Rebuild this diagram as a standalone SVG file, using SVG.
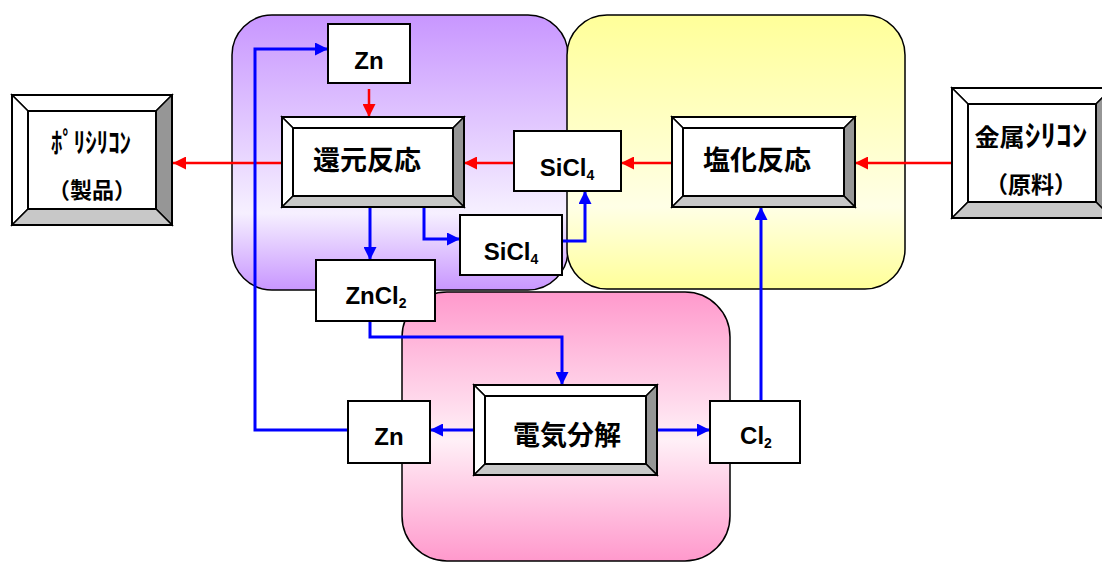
<svg xmlns="http://www.w3.org/2000/svg" width="1102" height="563" viewBox="0 0 1102 563">
<defs>
<linearGradient id="gPurple" x1="0" y1="0" x2="0" y2="1">
<stop offset="0" stop-color="#c896ff"/>
<stop offset="0.72" stop-color="#f6f0ff"/>
<stop offset="1" stop-color="#c896ff"/>
</linearGradient>
<linearGradient id="gYellow" x1="0" y1="0" x2="0" y2="1">
<stop offset="0" stop-color="#ffff99"/>
<stop offset="0.7" stop-color="#ffffe6"/>
<stop offset="1" stop-color="#ffff99"/>
</linearGradient>
<linearGradient id="gPink" x1="0" y1="0" x2="0" y2="1">
<stop offset="0" stop-color="#ff99cc"/>
<stop offset="0.55" stop-color="#fff0f7"/>
<stop offset="1" stop-color="#ff99cc"/>
</linearGradient>
<marker id="aRed" markerUnits="userSpaceOnUse" markerWidth="13" markerHeight="13" refX="13" refY="6.5" orient="auto">
<path d="M0,0 L13,6.5 L0,13 z" fill="#ff0000"/>
</marker>
<marker id="aBlue" markerUnits="userSpaceOnUse" markerWidth="13" markerHeight="13" refX="13" refY="6.5" orient="auto">
<path d="M0,0 L13,6.5 L0,13 z" fill="#0000ff"/>
</marker>
</defs>
<style>
.region{stroke:#000;stroke-width:1.5}
.box{fill:#fff;stroke:#000;stroke-width:2}
.bl{fill:#fff;stroke:#000;stroke-width:1.5;stroke-linejoin:miter}
.br{fill:#969696;stroke:#000;stroke-width:1.5}
.bb{fill:#c8c8c8;stroke:#000;stroke-width:1.5}
.lat{font-family:"Liberation Sans",Arial,sans-serif;font-weight:bold;font-size:24px;fill:#000;text-anchor:middle}
.cjk{font-family:"Noto Sans CJK JP","Noto Sans CJK SC",sans-serif;font-weight:bold;fill:#000;text-anchor:middle}
.red{fill:none;stroke:#ff0000;stroke-width:2.5;marker-end:url(#aRed)}
.blue{fill:none;stroke:#0000ff;stroke-width:3;marker-end:url(#aBlue)}
</style>

<g id="regions">
<rect id="region-reduction" class="region" x="232" y="15" width="336" height="275" rx="40" fill="url(#gPurple)"/>
<rect id="region-chlorination" class="region" x="567" y="15" width="338" height="274" rx="40" fill="url(#gYellow)"/>
<rect id="region-electrolysis" class="region" x="402" y="292" width="328" height="269" rx="45" fill="url(#gPink)"/>
</g>

<g id="connectors">
<path class="red" d="M369,89 L369,117"/>
<path class="red" d="M514,163 L464,163"/>
<path class="red" d="M282,163 L173,163"/>
<path class="red" d="M672,163 L621,163"/>
<path class="red" d="M952,163 L855,163"/>
<path class="blue" d="M370,207 L370,260"/>
<path class="blue" d="M424,207 L424,239 L460,239"/>
<path class="blue" d="M562,241 L585,241 L585,191"/>
<path class="blue" d="M370,321 L370,337 L562,337 L562,385"/>
<path class="blue" d="M474,430 L430,430"/>
<path class="blue" d="M657,430 L710,430"/>
<path class="blue" d="M348,430 L255,430 L255,49 L328,49"/>
<path class="blue" d="M761,401 L761,207"/>
</g>

<g id="node-polysilicon">
<polygon class="bl" points="12,95 172,95 156,111 28,111"/>
<polygon class="bl" points="12,95 28,111 28,209 12,225"/>
<polygon class="br" points="172,95 172,225 156,209 156,111"/>
<polygon class="bb" points="12,225 28,209 156,209 172,225"/>
<rect class="box" x="28" y="111" width="128" height="98" stroke-width="1.5"/>
<rect x="12" y="95" width="160" height="130" fill="none" stroke="#000" stroke-width="2"/>
<text class="cjk" x="91" y="153" font-size="28" textLength="80" lengthAdjust="spacingAndGlyphs">ﾎﾟﾘｼﾘｺﾝ</text>
<text class="cjk" x="92" y="198" font-size="22">（製品）</text>
</g>

<g id="node-reduction">
<polygon class="bl" points="282,117 464,117 453,128 293,128"/>
<polygon class="bl" points="282,117 293,128 293,196 282,207"/>
<polygon class="br" points="464,117 464,207 453,196 453,128"/>
<polygon class="bb" points="282,207 293,196 453,196 464,207"/>
<rect class="box" x="293" y="128" width="160" height="68" stroke-width="1.5"/>
<rect x="282" y="117" width="182" height="90" fill="none" stroke="#000" stroke-width="2"/>
<text class="cjk" x="367" y="170" font-size="27">還元反応</text>
</g>

<g id="node-chlorination">
<polygon class="bl" points="672,117 855,117 844,128 683,128"/>
<polygon class="bl" points="672,117 683,128 683,196 672,207"/>
<polygon class="br" points="855,117 855,207 844,196 844,128"/>
<polygon class="bb" points="672,207 683,196 844,196 855,207"/>
<rect class="box" x="683" y="128" width="161" height="68" stroke-width="1.5"/>
<rect x="672" y="117" width="183" height="90" fill="none" stroke="#000" stroke-width="2"/>
<text class="cjk" x="757" y="170" font-size="27">塩化反応</text>
</g>

<g id="node-electrolysis">
<polygon class="bl" points="474,385 657,385 646,396 485,396"/>
<polygon class="bl" points="474,385 485,396 485,464 474,475"/>
<polygon class="br" points="657,385 657,475 646,464 646,396"/>
<polygon class="bb" points="474,475 485,464 646,464 657,475"/>
<rect class="box" x="485" y="396" width="161" height="68" stroke-width="1.5"/>
<rect x="474" y="385" width="183" height="90" fill="none" stroke="#000" stroke-width="2"/>
<text class="cjk" x="567" y="445" font-size="27">電気分解</text>
</g>

<g id="node-metal-silicon">
<polygon class="bl" points="952,88 1112,88 1096,104 968,104"/>
<polygon class="bl" points="952,88 968,104 968,202 952,218"/>
<polygon class="br" points="1112,88 1112,218 1096,202 1096,104"/>
<polygon class="bb" points="952,218 968,202 1096,202 1112,218"/>
<rect class="box" x="968" y="104" width="128" height="98" stroke-width="1.5"/>
<rect x="952" y="88" width="160" height="130" fill="none" stroke="#000" stroke-width="2"/>
<text class="cjk" x="1031" y="146" font-size="24" textLength="113" lengthAdjust="spacingAndGlyphs">金属<tspan font-size="30">ｼﾘｺﾝ</tspan></text>
<text class="cjk" x="1031" y="193" font-size="23">（原料）</text>
</g>

<g id="node-zn-top">
<rect class="box" x="328" y="24" width="82" height="59"/>
<text class="lat" x="369" y="69">Zn</text>
</g>

<g id="node-sicl4-upper">
<rect class="box" x="514" y="131" width="107" height="60"/>
<text class="lat" x="567" y="176">SiCl<tspan font-size="14" dy="4">4</tspan></text>
</g>

<g id="node-sicl4-lower">
<rect class="box" x="460" y="215" width="102" height="60"/>
<text class="lat" x="511" y="260">SiCl<tspan font-size="14" dy="4">4</tspan></text>
</g>

<g id="node-zncl2">
<rect class="box" x="316" y="260" width="119" height="61"/>
<text class="lat" x="376" y="304">ZnCl<tspan font-size="14" dy="4">2</tspan></text>
</g>

<g id="node-zn-lower">
<rect class="box" x="348" y="401" width="82" height="62"/>
<text class="lat" x="389" y="445">Zn</text>
</g>

<g id="node-cl2">
<rect class="box" x="710" y="401" width="90" height="62"/>
<text class="lat" x="756" y="444">Cl<tspan font-size="14" dy="4">2</tspan></text>
</g>
</svg>
